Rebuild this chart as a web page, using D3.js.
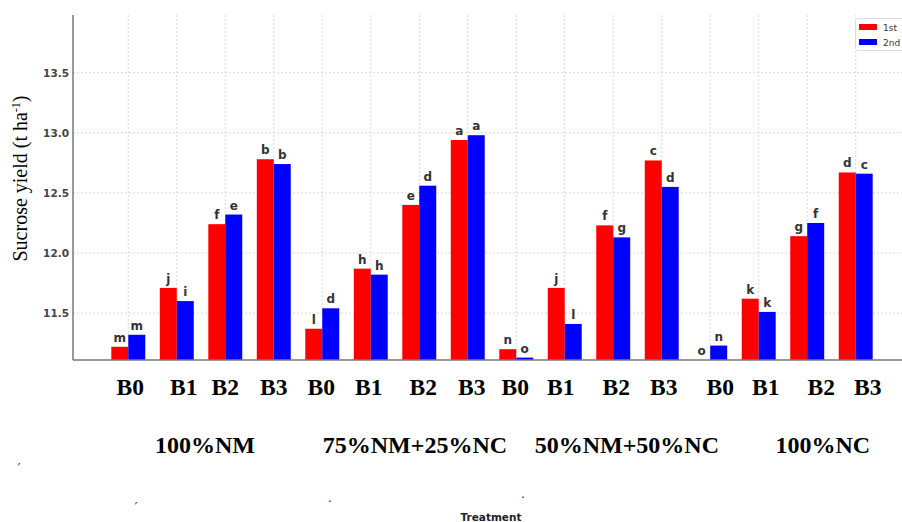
<!DOCTYPE html>
<html>
<head>
<meta charset="utf-8">
<script src="https://cdn.jsdelivr.net/npm/d3@7"></script>
<style>
  html, body { margin: 0; padding: 0; background: #fff; }
  svg { display: block; }
</style>
</head>
<body>
<script>
// ---------------- data ----------------
const categories = ["B0","B1","B2","B3","B0","B1","B2","B3","B0","B1","B2","B3","B0","B1","B2","B3"];
const groups = ["100%NM","75%NM+25%NC","50%NM+50%NC","100%NC"];
const seriesNames = ["1st","2nd"];
const firstValues  = [11.22, 11.71, 12.24, 12.78, 11.37, 11.87, 12.40, 12.94, 11.20, 11.71, 12.23, 12.77, 11.10, 11.62, 12.14, 12.67];
const secondValues = [11.32, 11.60, 12.32, 12.74, 11.54, 11.82, 12.56, 12.98, 11.13, 11.41, 12.13, 12.55, 11.23, 11.51, 12.25, 12.66];
const firstLetters  = ["m","j","f","b","l","h","e","a","n","j","f","c","o","k","g","d"];
const secondLetters = ["m","i","e","b","d","h","d","a","o","l","g","d","n","k","f","c"];
const yTicks = [11.5, 12.0, 12.5, 13.0, 13.5];

// ---------------- layout ----------------
const W = 902, H = 522;
const L = 73, R = 911, T = 15, B = 360;
const colors = ["#ff0000", "#0000ff"];
// small hand-placement offsets of the pasted-in category / group labels (px)
const catLabelDx = [2,7,0,0, -1,-2,4,4, -1,-4,3,2, 10,7,14,12];
const groupLabelAt = [1.58, 5.91, 10.28, 14.32]; // position in category-index units

const svg = d3.select("body").append("svg").attr("width", W).attr("height", H);

const idx = d3.range(categories.length);
const x = d3.scaleBand().domain(idx).range([L, R]).paddingInner(0.3).paddingOuter(0.79);
const xs = d3.scaleBand().domain(seriesNames).range([0, x.bandwidth()]);
const y = d3.scaleLinear().domain([11.11, 13.98]).range([B, T]);
const xIdx = d3.scaleLinear().domain([0, 1]).range([x(0) + x.bandwidth()/2, x(1) + x.bandwidth()/2]);

svg.append("defs").append("clipPath").attr("id", "plotclip")
  .append("rect").attr("x", L).attr("y", T).attr("width", R - L).attr("height", B - T);

// grid
const grid = svg.append("g");
grid.selectAll("line.h").data(yTicks).join("line")
  .attr("x1", L).attr("x2", W).attr("y1", d => y(d)).attr("y2", d => y(d))
  .attr("stroke", "#d8d8d8").attr("stroke-width", 1).attr("stroke-dasharray", "2,2");
grid.selectAll("line.v").data(idx).join("line")
  .attr("x1", d => x(d) + x.bandwidth()/2).attr("x2", d => x(d) + x.bandwidth()/2)
  .attr("y1", T).attr("y2", B)
  .attr("stroke", "#d8d8d8").attr("stroke-width", 1).attr("stroke-dasharray", "2,2");

// bars
const series = [firstValues, secondValues];
const letters = [firstLetters, secondLetters];
const barG = svg.append("g").attr("clip-path", "url(#plotclip)");
series.forEach((vals, s) => {
  barG.selectAll("rect.s" + s).data(vals).join("rect")
    .attr("x", (d, i) => x(i) + xs(seriesNames[s]))
    .attr("width", xs.bandwidth())
    .attr("y", d => y(Math.max(d, y.domain()[0])))
    .attr("height", d => B - y(Math.max(d, y.domain()[0])))
    .attr("fill", colors[s]);
});

// letters
series.forEach((vals, s) => {
  svg.append("g").selectAll("text").data(vals).join("text")
    .attr("x", (d, i) => x(i) + xs(seriesNames[s]) + xs.bandwidth()/2)
    .attr("y", d => y(Math.max(d, y.domain()[0])) - 5)
    .attr("text-anchor", "middle")
    .attr("font-family", "DejaVu Sans")
    .attr("font-weight", "bold")
    .attr("font-size", 12)
    .attr("fill", "#333")
    .text((d, i) => letters[s][i]);
});

// axes spines
svg.append("line").attr("x1", L).attr("x2", L).attr("y1", T).attr("y2", B)
  .attr("stroke", "#777").attr("stroke-width", 1.5);
svg.append("line").attr("x1", L).attr("x2", W).attr("y1", B).attr("y2", B)
  .attr("stroke", "#777").attr("stroke-width", 1.5);

// y tick labels
const yAxis = d3.axisLeft(y).tickValues(yTicks).tickFormat(d3.format(".1f")).tickSize(0).tickPadding(4);
const ya = svg.append("g").attr("transform", `translate(${L},0)`).call(yAxis);
ya.select(".domain").remove();
ya.selectAll("text")
  .attr("font-family", "DejaVu Sans").attr("font-weight", "bold")
  .attr("font-size", 10.5).attr("fill", "#444");

// y axis title
const yt = svg.append("text")
  .attr("transform", `translate(27,${(95+262)/2}) rotate(-90)`)
  .attr("text-anchor", "middle")
  .attr("font-family", "Liberation Serif, Times New Roman, serif")
  .attr("font-size", 20).attr("fill", "#000");
yt.append("tspan").text("Sucrose yield (t ha");
yt.append("tspan").attr("baseline-shift", "super").attr("font-size", 12).text("-1");
yt.append("tspan").text(")");

// category labels
svg.append("g").selectAll("text").data(categories).join("text")
  .attr("x", (d, i) => x(i) + x.bandwidth()/2 + catLabelDx[i])
  .attr("y", 395)
  .attr("text-anchor", "middle")
  .attr("font-family", "Liberation Serif, Times New Roman, serif")
  .attr("font-weight", "bold")
  .attr("font-size", 23.5)
  .attr("fill", "#000")
  .text(d => d);

// group labels
svg.append("g").selectAll("text").data(groups).join("text")
  .attr("x", (d, i) => xIdx(groupLabelAt[i]))
  .attr("y", 453)
  .attr("text-anchor", "middle")
  .attr("font-family", "Liberation Serif, Times New Roman, serif")
  .attr("font-weight", "bold")
  .attr("font-size", 24)
  .attr("fill", "#000")
  .text(d => d);

// x axis title
svg.append("text").attr("x", 491).attr("y", 521).attr("text-anchor", "middle")
  .attr("font-family", "DejaVu Sans").attr("font-weight", "bold")
  .attr("font-size", 10.5).attr("fill", "#222").text("Treatment");

// stray marks from the source image
const strays = [[19, 472, "′"], [136, 511, "′"], [330, 506, "·"], [523, 502, "·"]];
svg.append("g").selectAll("text").data(strays).join("text")
  .attr("x", d => d[0]).attr("y", d => d[1]).attr("text-anchor", "middle")
  .attr("font-family", "DejaVu Sans").attr("font-size", 12).attr("fill", "#222")
  .text(d => d[2]);

// legend
const lg = svg.append("g");
lg.append("rect").attr("x", 855.5).attr("y", 18.5).attr("width", 60).attr("height", 32)
  .attr("rx", 2).attr("fill", "#fff").attr("stroke", "#ddd");
seriesNames.forEach((n, s) => {
  lg.append("rect").attr("x", 859).attr("y", 24 + s * 15).attr("width", 18).attr("height", 6)
    .attr("fill", colors[s]);
  lg.append("text").attr("x", 883).attr("y", 30.5 + s * 15)
    .attr("font-family", "DejaVu Sans").attr("font-size", 9).attr("fill", "#333").text(n);
});
</script>
</body>
</html>
